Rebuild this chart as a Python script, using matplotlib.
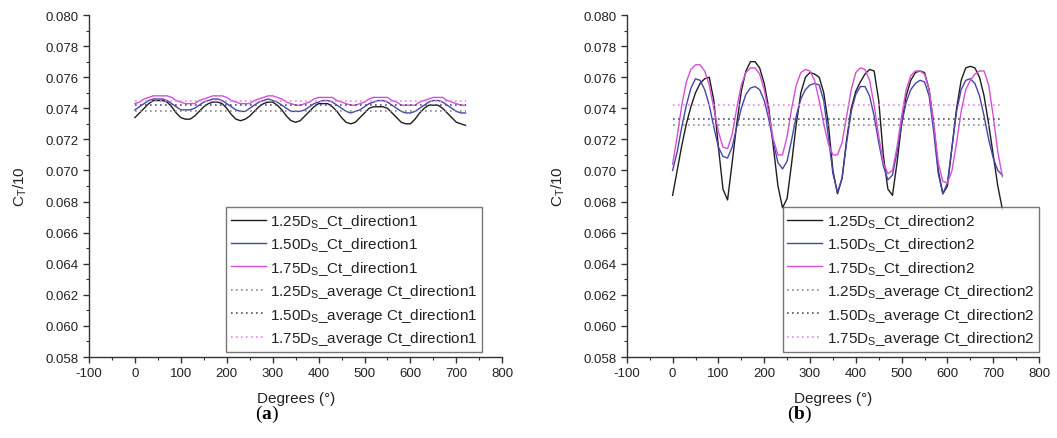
import numpy as np
import matplotlib
matplotlib.use("Agg")
import matplotlib.pyplot as plt
from matplotlib.ticker import MultipleLocator, FormatStrFormatter

plt.rcParams['font.family'] = ['Liberation Sans', 'DejaVu Sans']
plt.rcParams['mathtext.fontset'] = 'custom'
plt.rcParams['mathtext.bf'] = 'Liberation Serif:bold'
plt.rcParams['axes.unicode_minus'] = False

# angle grid shared by all series (degrees)
degrees = list(range(0, 721, 10))

# (a) direction 1
ct_125_dir1 = [0.0734, 0.0737, 0.0740, 0.0743, 0.0745, 0.0745, 0.0745, 0.0744, 0.0741, 0.0737,
               0.0734, 0.0733, 0.0733, 0.0735, 0.0738, 0.0741, 0.0743, 0.0744, 0.0744, 0.0743,
               0.0740, 0.0736, 0.0733, 0.0732, 0.0733, 0.0735, 0.0738, 0.0741, 0.0743, 0.0744,
               0.0744, 0.0742, 0.0739, 0.0735, 0.0732, 0.0731, 0.0732, 0.0735, 0.0738, 0.0741,
               0.0743, 0.0743, 0.0743, 0.0741, 0.0738, 0.0734, 0.0731, 0.0730, 0.0731, 0.0734,
               0.0737, 0.0740, 0.0741, 0.0741, 0.0741, 0.0740, 0.0737, 0.0734, 0.0731, 0.0730,
               0.0730, 0.0733, 0.0737, 0.0740, 0.0742, 0.0742, 0.0742, 0.0740, 0.0737, 0.0734,
               0.0731, 0.0730, 0.0729]
ct_150_dir1 = [0.0739, 0.0741, 0.0743, 0.0745, 0.0746, 0.0746, 0.0746, 0.0745, 0.0743, 0.0741,
               0.0739, 0.0739, 0.0739, 0.0740, 0.0742, 0.0744, 0.0745, 0.0746, 0.0746, 0.0745,
               0.0743, 0.0741, 0.0739, 0.0738, 0.0738, 0.0740, 0.0742, 0.0744, 0.0745, 0.0746,
               0.0745, 0.0744, 0.0742, 0.0740, 0.0738, 0.0738, 0.0738, 0.0739, 0.0741, 0.0743,
               0.0744, 0.0745, 0.0745, 0.0744, 0.0742, 0.0740, 0.0738, 0.0737, 0.0738, 0.0739,
               0.0741, 0.0743, 0.0744, 0.0745, 0.0745, 0.0744, 0.0742, 0.0740, 0.0738, 0.0737,
               0.0737, 0.0738, 0.0740, 0.0742, 0.0744, 0.0745, 0.0745, 0.0744, 0.0742, 0.0740,
               0.0738, 0.0737, 0.0737]
ct_175_dir1 = [0.0743, 0.0744, 0.0746, 0.0747, 0.0748, 0.0748, 0.0748, 0.0748, 0.0747, 0.0745,
               0.0744, 0.0743, 0.0743, 0.0743, 0.0745, 0.0746, 0.0747, 0.0748, 0.0748, 0.0748,
               0.0747, 0.0745, 0.0744, 0.0743, 0.0743, 0.0743, 0.0745, 0.0746, 0.0747, 0.0748,
               0.0748, 0.0747, 0.0746, 0.0744, 0.0743, 0.0742, 0.0742, 0.0743, 0.0744, 0.0746,
               0.0747, 0.0747, 0.0747, 0.0747, 0.0745, 0.0744, 0.0743, 0.0742, 0.0742, 0.0743,
               0.0744, 0.0746, 0.0747, 0.0747, 0.0747, 0.0747, 0.0745, 0.0744, 0.0742, 0.0742,
               0.0742, 0.0742, 0.0744, 0.0745, 0.0746, 0.0747, 0.0747, 0.0747, 0.0745, 0.0744,
               0.0743, 0.0742, 0.0742]
avg_dir1 = [0.0738, 0.0742, 0.0745]

# (b) direction 2
ct_125_dir2 = [0.0684, 0.0700, 0.0716, 0.0730, 0.0741, 0.0750, 0.0756, 0.0759, 0.0760, 0.0745,
               0.0715, 0.0688, 0.0681, 0.0705, 0.0730, 0.0751, 0.0764, 0.0770, 0.0770, 0.0766,
               0.0756, 0.0740, 0.0715, 0.0690, 0.0676, 0.0682, 0.0705, 0.0730, 0.0750, 0.0760,
               0.0763, 0.0762, 0.0760, 0.0750, 0.0730, 0.0700, 0.0685, 0.0695, 0.0720, 0.0740,
               0.0751, 0.0757, 0.0762, 0.0765, 0.0764, 0.0745, 0.0710, 0.0688, 0.0684, 0.0705,
               0.0730, 0.0748, 0.0758, 0.0763, 0.0764, 0.0763, 0.0752, 0.0730, 0.0700, 0.0685,
               0.0690, 0.0715, 0.0740, 0.0758, 0.0766, 0.0767, 0.0766, 0.0760, 0.0748, 0.0730,
               0.0710, 0.0690, 0.0675]
ct_150_dir2 = [0.0700, 0.0712, 0.0728, 0.0742, 0.0753, 0.0759, 0.0758, 0.0752, 0.0742, 0.0728,
               0.0715, 0.0709, 0.0708, 0.0715, 0.0728, 0.0740, 0.0749, 0.0753, 0.0754, 0.0752,
               0.0745, 0.0733, 0.0718, 0.0705, 0.0701, 0.0706, 0.0720, 0.0735, 0.0746, 0.0752,
               0.0755, 0.0756, 0.0755, 0.0745, 0.0722, 0.0698, 0.0686, 0.0695, 0.0718, 0.0738,
               0.0749, 0.0754, 0.0754, 0.0748, 0.0735, 0.0718, 0.0703, 0.0694, 0.0697, 0.0712,
               0.0730, 0.0744, 0.0752, 0.0756, 0.0758, 0.0757, 0.0748, 0.0725, 0.0698, 0.0685,
               0.0692, 0.0715, 0.0738, 0.0752, 0.0758, 0.0759, 0.0756, 0.0748, 0.0735, 0.0720,
               0.0708, 0.0700, 0.0697]
ct_175_dir2 = [0.0704, 0.0722, 0.0742, 0.0757, 0.0765, 0.0768, 0.0768, 0.0764, 0.0755, 0.0740,
               0.0725, 0.0715, 0.0714, 0.0723, 0.0740, 0.0755, 0.0763, 0.0766, 0.0766, 0.0762,
               0.0752, 0.0737, 0.0720, 0.0710, 0.0710, 0.0722, 0.0740, 0.0755, 0.0763, 0.0765,
               0.0764, 0.0758, 0.0745, 0.0730, 0.0717, 0.0710, 0.0710, 0.0718, 0.0735, 0.0752,
               0.0763, 0.0766, 0.0765, 0.0758, 0.0742, 0.0722, 0.0705, 0.0698, 0.0700, 0.0715,
               0.0735, 0.0752, 0.0761, 0.0764, 0.0764, 0.0762, 0.0752, 0.0730, 0.0705, 0.0693,
               0.0692, 0.0700, 0.0718, 0.0738, 0.0752, 0.0758, 0.0762, 0.0764, 0.0764, 0.0755,
               0.0735, 0.0712, 0.0696]
avg_dir2 = [0.0729, 0.0733, 0.0742]

spacings = ['1.25', '1.50', '1.75']
line_colors = ['#1e1e1e', '#4646a8', '#d54fd5']
avg_colors = ['#8c8c8c', '#50507a', '#e58ae5']


def draw_panel(ax, curves, avgs, direction, legend_x):
    x = np.array(degrees)
    for s, y, c in zip(spacings, curves, line_colors):
        ax.plot(x, y, color=c, lw=1.0,
                label=s + r'D$_\mathregular{S}$_Ct_direction' + direction)
    for s, a, c in zip(spacings, avgs, avg_colors):
        ax.plot([x[0], x[-1]], [a, a], color=c, lw=1.2, ls=(0, (1, 2)),
                label=s + r'D$_\mathregular{S}$_average Ct_direction' + direction)

    ax.set_xlim(-100, 800)
    ax.set_ylim(0.058, 0.080)
    ax.xaxis.set_major_locator(MultipleLocator(100))
    ax.xaxis.set_minor_locator(MultipleLocator(50))
    ax.yaxis.set_major_locator(MultipleLocator(0.002))
    ax.yaxis.set_minor_locator(MultipleLocator(0.001))
    ax.yaxis.set_major_formatter(FormatStrFormatter('%.3f'))
    for side in ['top', 'right']:
        ax.spines[side].set_visible(False)
    for side in ['left', 'bottom']:
        ax.spines[side].set_color('#333333')
        ax.spines[side].set_linewidth(1.0)
    ax.tick_params(which='major', direction='out', length=4, width=1.0,
                   labelsize=9.5, colors='#333333', labelcolor='#222222')
    ax.tick_params(which='minor', direction='out', length=2.5, width=0.8, colors='#333333')
    ax.set_xlabel('Degrees (°)', fontsize=11, color='#222222', labelpad=8)
    ax.set_ylabel(r'C$_\mathregular{T}$/10', fontsize=11, color='#222222', labelpad=12)

    leg = ax.legend(loc='lower right', bbox_to_anchor=(legend_x, 0.015), borderaxespad=0,
                    fontsize=11, frameon=True, fancybox=False, handlelength=2.3,
                    handletextpad=0.3, labelspacing=0.36, borderpad=0.3)
    leg.get_frame().set_edgecolor('#555555')
    leg.get_frame().set_linewidth(1.0)
    for t in leg.get_texts():
        t.set_color('#222222')


fig = plt.figure(figsize=(10.57, 4.39), dpi=100)
ax1 = fig.add_axes([0.0842, 0.1845, 0.391, 0.779])
ax2 = fig.add_axes([0.593, 0.1845, 0.390, 0.779])

draw_panel(ax1, [ct_125_dir1, ct_150_dir1, ct_175_dir1], avg_dir1, '1', 0.952)
draw_panel(ax2, [ct_125_dir2, ct_150_dir2, ct_175_dir2], avg_dir2, '2', 1.0)

fig.text(267 / 1057, 1 - 414 / 439, r'($\mathbf{a}$)', ha='center', va='center',
         fontsize=14, family='Liberation Serif')
fig.text(800 / 1057, 1 - 414 / 439, r'($\mathbf{b}$)', ha='center', va='center',
         fontsize=14, family='Liberation Serif')

fig.savefig('out.png', dpi=100)
